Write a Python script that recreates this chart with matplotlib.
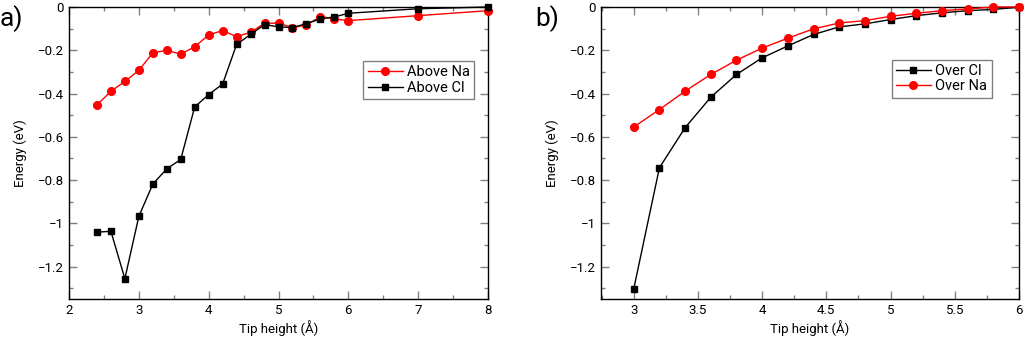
import matplotlib
matplotlib.use('Agg')
import matplotlib.pyplot as plt
from matplotlib.ticker import MultipleLocator

plt.rcParams['font.family'] = ['Roboto', 'DejaVu Sans']
plt.rcParams['font.size'] = 9.5

# panel a: tip heights and energies above each ion
h_a = [2.4, 2.6, 2.8, 3.0, 3.2, 3.4, 3.6, 3.8, 4.0, 4.2, 4.4, 4.6, 4.8,
       5.0, 5.2, 5.4, 5.6, 5.8, 6.0, 7.0, 8.0]
above_na = [-0.453, -0.39, -0.344, -0.293, -0.212, -0.2, -0.218, -0.184,
            -0.129, -0.109, -0.137, -0.117, -0.075, -0.075, -0.095, -0.083,
            -0.044, -0.055, -0.063, -0.04, -0.017]
above_cl = [-1.041, -1.037, -1.256, -0.968, -0.819, -0.748, -0.705, -0.462,
            -0.405, -0.356, -0.173, -0.127, -0.081, -0.092, -0.095, -0.077,
            -0.055, -0.046, -0.029, -0.008, 0.0]

# panel b
h_b = [3.0, 3.2, 3.4, 3.6, 3.8, 4.0, 4.2, 4.4, 4.6, 4.8, 5.0, 5.2, 5.4,
       5.6, 5.8, 6.0]
over_cl = [-1.303, -0.743, -0.558, -0.417, -0.312, -0.235, -0.18, -0.127,
           -0.092, -0.078, -0.058, -0.04, -0.027, -0.017, -0.011, -0.001]
over_na = [-0.555, -0.474, -0.389, -0.312, -0.246, -0.19, -0.144, -0.101,
           -0.074, -0.063, -0.043, -0.029, -0.017, -0.009, 0.0, 0.0]

fig = plt.figure(figsize=(10.24, 3.39), dpi=100)
ax1 = fig.add_axes([69/1024, 40/339, 419/1024, 292/339])
ax2 = fig.add_axes([601/1024, 40/339, 418/1024, 292/339])

ax1.plot(h_a, above_na, '-o', color='#ff0000', lw=1, ms=5.5, label='Above Na',
         clip_on=False, zorder=3)
ax1.plot(h_a, above_cl, '-s', color='black', lw=1, ms=4.5, label='Above Cl',
         clip_on=False, zorder=3)
ax2.plot(h_b, over_cl, '-s', color='black', lw=1, ms=4.5, label='Over Cl',
         clip_on=False, zorder=3)
ax2.plot(h_b, over_na, '-o', color='#ff0000', lw=1, ms=5.5, label='Over Na',
         clip_on=False, zorder=3)

ax1.set_xlim(2, 8)
ax2.set_xlim(2.745, 6)
ax1.xaxis.set_major_locator(MultipleLocator(1))
ax1.xaxis.set_minor_locator(MultipleLocator(0.5))
ax2.xaxis.set_major_locator(MultipleLocator(0.5))
ax2.xaxis.set_minor_locator(MultipleLocator(0.25))

for ax in (ax1, ax2):
    ax.set_ylim(-1.35, 0)
    ax.yaxis.set_major_locator(MultipleLocator(0.2))
    ax.yaxis.set_minor_locator(MultipleLocator(0.1))
    ax.tick_params(which='both', direction='in', top=True, right=True,
                   color='#808080', labelcolor='black')
    ax.tick_params(which='major', length=6, width=1)
    ax.tick_params(which='minor', length=3, width=1)
    ax.set_xlabel('Tip height (Å)', labelpad=2)
    ax.set_ylabel('Energy (eV)', labelpad=8)
    ax.yaxis.set_major_formatter(plt.FuncFormatter(
        lambda v, p: '0' if abs(v) < 1e-9 else ('%g' % v).replace('-', '\u2212')))
    ax.xaxis.set_major_formatter(plt.FuncFormatter(lambda v, p: '%g' % v))
    for s in ax.spines.values():
        s.set_linewidth(1)

leg1 = ax1.legend(loc='upper left', bbox_to_anchor=(0.702, 0.815),
                  fancybox=False, edgecolor='#808080', framealpha=1,
                  handlelength=2.4, borderpad=0.3, labelspacing=0.1,
                  handletextpad=0.3, borderaxespad=0, fontsize=10.5)
leg2 = ax2.legend(loc='upper left', bbox_to_anchor=(0.695, 0.82),
                  fancybox=False, edgecolor='#808080', framealpha=1,
                  handlelength=2.4, borderpad=0.3, labelspacing=0.1,
                  handletextpad=0.3, borderaxespad=0, fontsize=10.5)
for leg in (leg1, leg2):
    leg.get_frame().set_linewidth(1)

fig.text(0.0, 0.985, 'a)', fontsize=19, va='top', ha='left')
fig.text(535/1024, 0.985, 'b)', fontsize=19, va='top', ha='left')

fig.savefig('out.png', dpi=100)
